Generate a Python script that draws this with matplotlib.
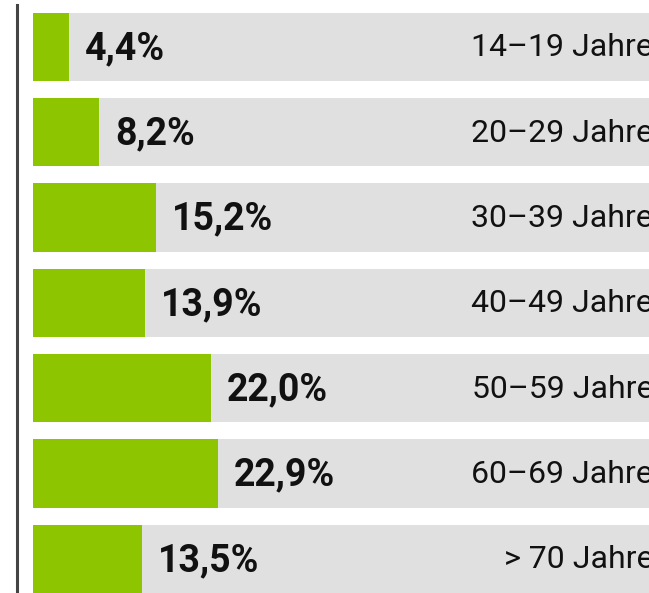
import matplotlib
matplotlib.use("Agg")
import matplotlib.pyplot as plt
from matplotlib.lines import Line2D

categories = ["14–19 Jahre", "20–29 Jahre", "30–39 Jahre", "40–49 Jahre",
              "50–59 Jahre", "60–69 Jahre", "> 70 Jahre"]
values = [4.4, 8.2, 15.2, 13.9, 22.0, 22.9, 13.5]
value_labels = ["4,4%", "8,2%", "15,2%", "13,9%", "22,0%", "22,9%", "13,5%"]

W, H = 649, 593
fig = plt.figure(figsize=(W / 100, H / 100), dpi=100)
fig.patch.set_facecolor("white")
ax = fig.add_axes([33 / W, 0, 1 - 33 / W, 1])

XMAX = 76.3
ys = list(range(len(categories)))
ax.barh(ys, [XMAX] * len(ys), height=0.8, color="#e0e0e0", zorder=1)
ax.barh(ys, values, height=0.8, color="#8dc500", zorder=2)

PT = 72 / 100
for y, v, lab, cat in zip(ys, values, value_labels, categories):
    ax.annotate(lab, (v, y), xytext=(16 * PT, -1.5 * PT), textcoords="offset points",
                ha="left", va="center", fontsize=27, fontweight="bold",
                family="Roboto", color="#111111", zorder=3)
    ax.annotate(cat, (1.0, y), xycoords=("axes fraction", "data"),
                xytext=(4 * PT, -1 * PT), textcoords="offset points",
                ha="right", va="center", fontsize=23, family="Roboto",
                color="#111111", zorder=3, annotation_clip=False)

ax.set_xlim(0, XMAX)
ax.set_ylim(6.4, -0.55)
ax.axis("off")

fig.add_artist(Line2D([16.5 / W, 16.5 / W], [0, 1 - 5 / H], transform=fig.transFigure,
                      color="#444444", linewidth=2.2))

fig.savefig("out.png", dpi=100)
